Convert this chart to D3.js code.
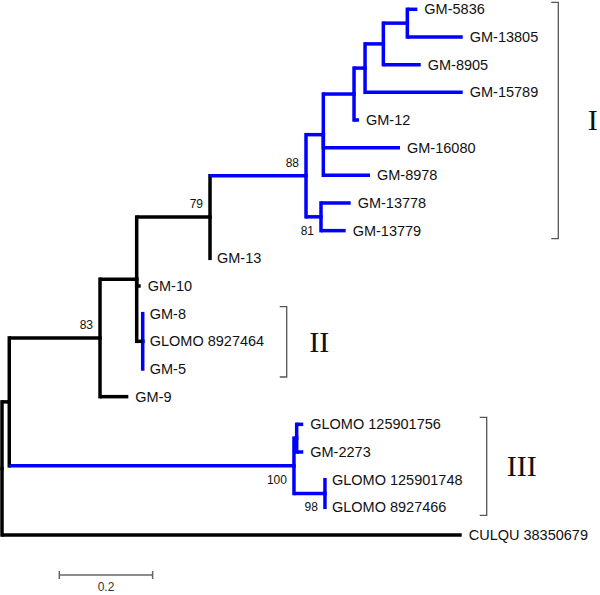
<!DOCTYPE html>
<html>
<head>
<meta charset="utf-8">
<script src="https://cdn.jsdelivr.net/npm/d3@7"></script>
<style>
  body { margin: 0; background: #fff; }
  svg { display: block; }
</style>
</head>
<body>
<svg id="chart" width="600" height="595"></svg>
<script>
// ---- Tree data (branch lengths in substitutions/site) ----
const nodeIds = [
  "root", "nA", "n83", "nB", "n79", "n88", "nC", "nD", "nE", "nF", "nG",
  "GM-5836", "GM-13805", "GM-8905", "GM-15789", "GM-12", "GM-16080", "GM-8978",
  "n81", "GM-13778", "GM-13779", "GM-13", "GM-10", "nII",
  "GM-8", "GLOMO 8927464", "GM-5", "GM-9",
  "n100", "nH", "GLOMO 125901756", "GM-2273", "n98",
  "GLOMO 125901748", "GLOMO 8927466", "CULQU 38350679"
];
const parentIds = [
  "", "root", "nA", "n83", "nB", "n79", "n88", "nC", "nD", "nE", "nF",
  "nG", "nG", "nF", "nE", "nD", "nC", "nC",
  "n88", "n81", "n81", "n79", "nB", "nB",
  "nII", "nII", "nII", "n83",
  "nA", "n100", "nH", "nH", "n100",
  "n98", "n98", "root"
];
const branchLengths = [
  0, 0.0156, 0.1944, 0.0786, 0.1571, 0.2057, 0.0371, 0.0658, 0.0236, 0.0392, 0.0514,
  0.0214, 0.1187, 0.0801, 0.2093, 0.0107, 0.1643, 0.1000,
  0.0321, 0.0636, 0.0529, 0, 0.0086, 0.0129,
  0, 0, 0, 0.0607,
  0.6100, 0.0058, 0.0141, 0.0141, 0.0664,
  0, 0, 0.9850
];
// bootstrap support values
const bootNodes = ["n88", "n81", "n79", "n83", "n100", "n98"];
const bootValues = ["88", "81", "79", "83", "100", "98"];
const bootBelow = [false, true, false, false, true, true];
// clades
const cladeNames = ["I", "II", "III"];
const cladeRoots = ["n88", "nII", "n100"];
const blueStemRoots = ["n88", "n100"];
const scaleBarValue = 0.2;

// ---- Layout ----
const svg = d3.select("#chart");
const blue = "#0000ff";
const lw = 3.5;

const table = nodeIds.map((id, i) => ({ id, parent: parentIds[i] || null, len: branchLengths[i] }));
const root = d3.stratify().id(d => d.id).parentId(d => d.parent)(table);

root.eachBefore(n => { n.dist = n.parent ? n.parent.dist + n.data.len : 0; });
const leaves = root.leaves();

const x = d3.scaleLinear().domain([0, 1]).range([2, 468.7]);
const y = d3.scalePoint().domain(leaves.map(d => d.id)).range([9.3, 535]);

root.eachAfter(n => {
  n.px = x(n.dist);
  if (!n.children) n.py = y(n.id);
  else n.py = (n.children[0].py + n.children[n.children.length - 1].py) / 2;
});

function inSubtree(n, ids, strict) {
  let a = strict ? n.parent : n;
  while (a) { if (ids.includes(a.id)) return true; a = a.parent; }
  return false;
}
const vertBlue = n => inSubtree(n, cladeRoots, false);
const stemBlue = n => inSubtree(n, blueStemRoots, false) || inSubtree(n, ["nII"], true);

const g = svg.append("g");
const links = root.descendants().filter(n => n.parent);

// vertical segments (parent colour)
g.selectAll("line.v").data(links).join("line")
  .attr("class", "v")
  .attr("x1", d => d.parent.px).attr("x2", d => d.parent.px)
  .attr("y1", d => d.parent.py).attr("y2", d => d.py)
  .attr("stroke", d => vertBlue(d.parent) ? blue : "#000")
  .attr("stroke-width", lw)
  .attr("stroke-linecap", "square");

// horizontal segments (child colour)
g.selectAll("line.h").data(links.filter(d => d.px - d.parent.px > 0.01)).join("line")
  .attr("class", "h")
  .attr("x1", d => d.parent.px).attr("x2", d => d.px)
  .attr("y1", d => d.py).attr("y2", d => d.py)
  .attr("stroke", d => stemBlue(d) ? blue : "#000")
  .attr("stroke-width", lw);

// leaf labels
g.selectAll("text.leaf").data(leaves).join("text")
  .attr("class", "leaf")
  .attr("x", d => d.px + 7)
  .attr("y", d => d.py)
  .attr("dy", "0.35em")
  .attr("font-family", "'Liberation Sans', Arial, sans-serif")
  .attr("font-size", 14.5)
  .attr("fill", "#111")
  .text(d => d.id);

// bootstrap
const byId = new Map(root.descendants().map(n => [n.id, n]));
bootNodes.forEach((id, i) => {
  const n = byId.get(id);
  g.append("text")
    .attr("x", n.px - 7)
    .attr("y", bootBelow[i] ? n.py + 18 : n.py - 9)
    .attr("text-anchor", "end")
    .attr("font-family", "'Liberation Sans', Arial, sans-serif")
    .attr("font-size", 12)
    .attr("fill", "#111")
    .text(bootValues[i]);
});

// clade brackets
const bracketX = [558.3, 286.7, 486.7];
const labelX = [592.7, 319.3, 521.7];
cladeRoots.forEach((id, i) => {
  const n = byId.get(id);
  const lv = n.leaves();
  const y0 = lv[0].py - 7, y1 = lv[lv.length - 1].py + 8;
  const bx = bracketX[i];
  g.append("path")
    .attr("d", `M${bx - 7},${y0}H${bx}V${y1}H${bx - 7}`)
    .attr("fill", "none")
    .attr("stroke", "#555")
    .attr("stroke-width", 1.3);
  g.append("text")
    .attr("x", labelX[i])
    .attr("y", (y0 + y1) / 2)
    .attr("dy", "0.33em")
    .attr("text-anchor", "middle")
    .attr("font-family", "'Liberation Serif', 'Times New Roman', serif")
    .attr("font-size", 30)
    .attr("fill", "#111")
    .text(cladeNames[i]);
});

// scale bar
const sb0 = 59.3, sbY = 575;
const sb1 = sb0 + (x(scaleBarValue) - x(0));
const sbg = svg.append("g").attr("stroke", "#666").attr("stroke-width", 1.5);
sbg.append("line").attr("x1", sb0).attr("x2", sb1).attr("y1", sbY).attr("y2", sbY);
sbg.append("line").attr("x1", sb0).attr("x2", sb0).attr("y1", sbY - 4).attr("y2", sbY + 4);
sbg.append("line").attr("x1", sb1).attr("x2", sb1).attr("y1", sbY - 4).attr("y2", sbY + 4);
svg.append("text")
  .attr("x", (sb0 + sb1) / 2).attr("y", 591)
  .attr("text-anchor", "middle")
  .attr("font-family", "'Liberation Sans', Arial, sans-serif")
  .attr("font-size", 12)
  .attr("fill", "#333")
  .text(String(scaleBarValue));
</script>
</body>
</html>
